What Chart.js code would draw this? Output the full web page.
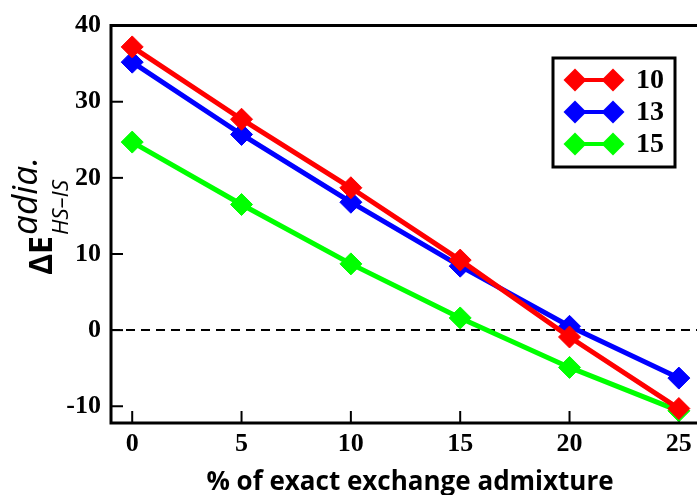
<!DOCTYPE html>
<html>
<head>
<meta charset="utf-8">
<script src="https://cdn.jsdelivr.net/npm/chart.js@4"></script>
<style>
  html, body { margin: 0; padding: 0; background: #fff; }
  #wrap { width: 697px; height: 495px; }
</style>
</head>
<body>
<div id="wrap"><canvas id="chart"></canvas></div>
<script>
// values
const xValues = [0, 5, 10, 15, 20, 25];
const series10 = [37.2, 27.7, 18.7, 9.2, -0.9, -10.3];
const series13 = [35.2, 25.7, 16.8, 8.4, 0.5, -6.3];
const series15 = [24.7, 16.5, 8.7, 1.6, -4.9, -10.6];
const seriesNames = ['10', '13', '15'];
const seriesColors = ['#ff0000', '#0000ff', '#00ff00'];
const xTicks = [0, 5, 10, 15, 20, 25];
const yTicks = [-10, 0, 10, 20, 30, 40];

const tickFont = { family: 'Liberation Serif', size: 26, weight: 'bold' };

function diamond(ctx, x, y, r, color) {
    ctx.beginPath();
    ctx.moveTo(x, y - r);
    ctx.lineTo(x + r, y);
    ctx.lineTo(x, y + r);
    ctx.lineTo(x - r, y);
    ctx.closePath();
    ctx.fillStyle = color;
    ctx.fill();
}

// pick a font size so the text spans roughly the given length
function fitFont(ctx, style, family, text, len) {
    ctx.font = style + ' 30px ' + family;
    const size = 30 * len / ctx.measureText(text).width;
    ctx.font = style + ' ' + size.toFixed(1) + 'px ' + family;
}

// frame, inward ticks, dashed zero line, legend and axis titles
const decor = {
    id: 'decor',
    beforeDatasetsDraw(chart) {
        const ctx = chart.ctx;
        const a = chart.chartArea;
        const xs = chart.scales.x, ys = chart.scales.y;
        ctx.save();
        // zero line
        ctx.strokeStyle = '#000';
        ctx.lineWidth = 2;
        ctx.setLineDash([9, 6]);
        const y0 = ys.getPixelForValue(0);
        ctx.beginPath();
        ctx.moveTo(a.left, y0);
        ctx.lineTo(a.right, y0);
        ctx.stroke();
        ctx.setLineDash([]);
        // ticks pointing inward
        ctx.lineWidth = 2;
        yTicks.forEach(v => {
            const py = ys.getPixelForValue(v);
            ctx.beginPath();
            ctx.moveTo(a.left, py);
            ctx.lineTo(a.left + 12, py);
            ctx.stroke();
        });
        xTicks.forEach(v => {
            const px = xs.getPixelForValue(v);
            ctx.beginPath();
            ctx.moveTo(px, a.bottom);
            ctx.lineTo(px, a.bottom - 12);
            ctx.stroke();
        });
        ctx.restore();
    },
    afterDraw(chart) {
        const ctx = chart.ctx;
        const a = chart.chartArea;
        ctx.save();
        // frame (right side is cut off in the reference)
        ctx.strokeStyle = '#000';
        ctx.lineWidth = 3;
        ctx.beginPath();
        ctx.moveTo(chart.width, a.top);
        ctx.lineTo(a.left, a.top);
        ctx.lineTo(a.left, a.bottom);
        ctx.lineTo(chart.width, a.bottom);
        ctx.stroke();

        // legend
        ctx.lineWidth = 3;
        ctx.strokeRect(553, 58, 122, 109);
        chart.data.datasets.forEach((ds, i) => {
            const cy = 80 + i * 32;
            ctx.strokeStyle = ds.borderColor;
            ctx.lineWidth = 4;
            ctx.beginPath();
            ctx.moveTo(575, cy);
            ctx.lineTo(613, cy);
            ctx.stroke();
            diamond(ctx, 575, cy, 11.5, ds.borderColor);
            diamond(ctx, 613, cy, 11.5, ds.borderColor);
            ctx.fillStyle = '#000';
            ctx.font = 'bold 28px "Liberation Serif"';
            ctx.textAlign = 'left';
            ctx.textBaseline = 'middle';
            ctx.fillText(ds.label, 636, cy + 1);
        });

        // x title
        ctx.fillStyle = '#000';
        ctx.textAlign = 'center';
        ctx.textBaseline = 'alphabetic';
        fitFont(ctx, 'bold', '"Open Sans"', '% of exact exchange admixture', 408);
        ctx.fillText('% of exact exchange admixture', 410, 490);

        // y title, rotated, with super and subscript
        ctx.translate(52, 275);
        ctx.rotate(-Math.PI / 2);
        ctx.textAlign = 'left';
        fitFont(ctx, 'bold', '"Open Sans"', 'ΔE', 39);
        ctx.fillText('ΔE', 0, 0);
        const w = ctx.measureText('ΔE').width + 1;
        fitFont(ctx, 'italic', '"Open Sans"', 'adia.', 78);
        ctx.fillText('adia.', w, -15);
        fitFont(ctx, 'italic', '"Open Sans"', 'HS–IS', 55);
        ctx.fillText('HS–IS', w, 16);
        ctx.restore();
    }
};

const values = [series10, series13, series15];
const datasets = values.map((vals, i) => ({
    label: seriesNames[i],
    data: xValues.map((x, j) => ({ x: x, y: vals[j] })),
    borderColor: seriesColors[i],
    backgroundColor: seriesColors[i],
    borderWidth: 5,
    pointStyle: 'rectRot',
    pointRadius: 11,
    pointHoverRadius: 11,
    pointBorderWidth: 1,
    tension: 0,
    clip: false
}));

new Chart(document.getElementById('chart'), {
    type: 'line',
    data: { datasets: datasets },
    options: {
        responsive: true,
        maintainAspectRatio: false,
        animation: false,
        events: [],
        layout: { autoPadding: false, padding: { top: 21, right: 0, bottom: 0, left: 0 } },
        plugins: { legend: { display: false }, tooltip: { enabled: false } },
        scales: {
            x: {
                type: 'linear',
                min: -0.97,
                max: 25.83,
                grid: { display: false, drawTicks: false },
                border: { display: false },
                afterBuildTicks: s => { s.ticks = xTicks.map(v => ({ value: v })); },
                afterFit: s => { s.height = 72; s.paddingLeft = 0; s.paddingRight = 0; },
                ticks: { color: '#000', font: tickFont, padding: 6, maxRotation: 0 }
            },
            y: {
                min: -12.2,
                max: 40,
                grid: { display: false, drawTicks: false },
                border: { display: false },
                afterBuildTicks: s => { s.ticks = yTicks.map(v => ({ value: v })); },
                afterFit: s => { s.width = 111; },
                ticks: { color: '#000', font: tickFont, padding: 10 }
            }
        }
    },
    plugins: [decor]
});
</script>
</body>
</html>
